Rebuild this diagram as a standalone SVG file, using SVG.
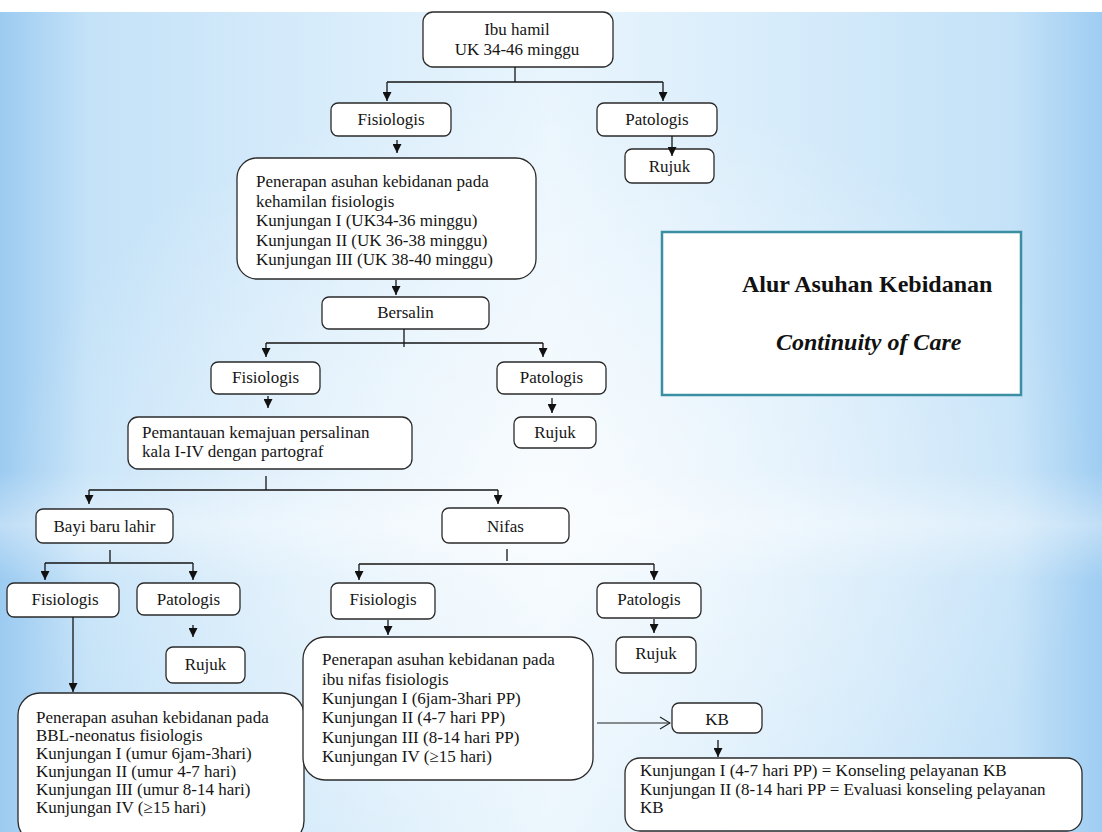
<svg xmlns="http://www.w3.org/2000/svg" width="1102" height="832" viewBox="0 0 1102 832">
<defs>
<linearGradient id="bgH" x1="0" y1="0" x2="1" y2="0">
<stop offset="0" stop-color="#9ccbf1"/>
<stop offset="0.08" stop-color="#c4e2f8"/>
<stop offset="0.5" stop-color="#e9f5fd"/>
<stop offset="0.92" stop-color="#c4e2f8"/>
<stop offset="1" stop-color="#9fcdf2"/>
</linearGradient>
<radialGradient id="glow" cx="0.5" cy="0.6" r="0.5">
<stop offset="0" stop-color="#ffffff" stop-opacity="0.7"/>
<stop offset="1" stop-color="#ffffff" stop-opacity="0"/>
</radialGradient>
<linearGradient id="band" x1="0" y1="0" x2="0" y2="1">
<stop offset="0" stop-color="#ffffff" stop-opacity="0"/>
<stop offset="0.5" stop-color="#ffffff" stop-opacity="0.35"/>
<stop offset="1" stop-color="#ffffff" stop-opacity="0"/>
</linearGradient>
<marker id="ah" markerUnits="userSpaceOnUse" markerWidth="9" markerHeight="9" refX="9" refY="4.5" orient="auto">
<path d="M0,0 L9,4.5 L0,9 z" fill="#111"/>
</marker>
<marker id="ao" markerUnits="userSpaceOnUse" markerWidth="12" markerHeight="14" refX="11" refY="7" orient="auto">
<path d="M1,1 L11,7 L1,13" fill="none" stroke="#222" stroke-width="1.2"/>
</marker>
</defs>
<style>
.box{fill:#ffffff;stroke:#2a2a2a;stroke-width:1.3}
.t{font-family:"Liberation Serif","Times New Roman",serif;font-size:17px;fill:#151515}
.c{text-anchor:middle}
.ln{fill:none;stroke:#151515;stroke-width:1.3}
.ar{fill:none;stroke:#151515;stroke-width:1.3;marker-end:url(#ah)}
.title{font-family:"Liberation Serif","Times New Roman",serif;font-size:24px;font-weight:bold;fill:#111}
</style>
<rect x="0" y="0" width="1102" height="832" fill="url(#bgH)"/>
<rect x="0" y="0" width="1102" height="832" fill="url(#glow)"/>
<rect x="0" y="470" width="1102" height="110" fill="url(#band)"/>
<rect x="0" y="0" width="1102" height="12" fill="#ffffff"/>

<g id="ibu-hamil">
<rect class="box" x="423" y="12" width="190" height="55" rx="10"/>
<text class="t c" x="517" y="35">Ibu hamil</text>
<text class="t c" x="517" y="55">UK 34-46 minggu</text>
</g>
<g id="fisiologis-1">
<rect class="box" x="331" y="103" width="120" height="33" rx="7"/>
<text class="t c" x="391" y="125">Fisiologis</text>
</g>
<g id="patologis-1">
<rect class="box" x="597" y="103" width="120" height="33" rx="7"/>
<text class="t c" x="657" y="125">Patologis</text>
</g>
<g id="rujuk-1">
<rect class="box" x="625" y="149" width="89" height="34" rx="7"/>
<text class="t c" x="669.5" y="172">Rujuk</text>
</g>
<g id="kehamilan">
<rect class="box" x="237" y="158" width="299" height="121" rx="20"/>
<text class="t" x="256" y="187">Penerapan asuhan kebidanan pada</text>
<text class="t" x="256" y="206.5">kehamilan fisiologis</text>
<text class="t" x="256" y="226">Kunjungan I (UK34-36 minggu)</text>
<text class="t" x="256" y="245.5">Kunjungan II (UK 36-38 minggu)</text>
<text class="t" x="256" y="265">Kunjungan III (UK 38-40 minggu)</text>
</g>
<g id="bersalin">
<rect class="box" x="322" y="297" width="167" height="32" rx="7"/>
<text class="t c" x="405.5" y="318">Bersalin</text>
</g>
<g id="fisiologis-2">
<rect class="box" x="211" y="362" width="109" height="32" rx="7"/>
<text class="t c" x="265.5" y="383">Fisiologis</text>
</g>
<g id="patologis-2">
<rect class="box" x="497" y="362" width="109" height="32" rx="7"/>
<text class="t c" x="551.5" y="383">Patologis</text>
</g>
<g id="pemantauan">
<rect class="box" x="128" y="417" width="284" height="52" rx="10"/>
<text class="t" x="142" y="438">Pemantauan kemajuan persalinan</text>
<text class="t" x="142" y="457">kala I-IV dengan partograf</text>
</g>
<g id="rujuk-2">
<rect class="box" x="514" y="417" width="82" height="31" rx="7"/>
<text class="t c" x="555" y="438">Rujuk</text>
</g>
<g id="bayi">
<rect class="box" x="36" y="509" width="137" height="34" rx="7"/>
<text class="t c" x="104.5" y="531.5">Bayi baru lahir</text>
</g>
<g id="nifas">
<rect class="box" x="442" y="508" width="127" height="35" rx="7"/>
<text class="t c" x="505.5" y="531.5">Nifas</text>
</g>
<g id="fisiologis-3">
<rect class="box" x="7" y="583" width="112" height="34" rx="7"/>
<text class="t c" x="65" y="605">Fisiologis</text>
</g>
<g id="patologis-3">
<rect class="box" x="137" y="583" width="103" height="32" rx="7"/>
<text class="t c" x="188.5" y="605">Patologis</text>
</g>
<g id="rujuk-3">
<rect class="box" x="166" y="647" width="79" height="36" rx="7"/>
<text class="t c" x="205.5" y="670">Rujuk</text>
</g>
<g id="bbl">
<rect class="box" x="18" y="693" width="286" height="150" rx="22"/>
<text class="t" x="36" y="723">Penerapan asuhan kebidanan pada</text>
<text class="t" x="36" y="741">BBL-neonatus fisiologis</text>
<text class="t" x="36" y="759">Kunjungan I (umur 6jam-3hari)</text>
<text class="t" x="36" y="777">Kunjungan II (umur 4-7 hari)</text>
<text class="t" x="36" y="795">Kunjungan III (umur 8-14 hari)</text>
<text class="t" x="36" y="813">Kunjungan IV (≥15 hari)</text>
</g>
<g id="fisiologis-4">
<rect class="box" x="331" y="583" width="104" height="36" rx="7"/>
<text class="t c" x="383" y="605">Fisiologis</text>
</g>
<g id="patologis-4">
<rect class="box" x="597" y="583" width="104" height="35" rx="7"/>
<text class="t c" x="649" y="605">Patologis</text>
</g>
<g id="rujuk-4">
<rect class="box" x="616" y="637" width="80" height="36" rx="7"/>
<text class="t c" x="656" y="659">Rujuk</text>
</g>
<g id="nifas-asuhan">
<rect class="box" x="303" y="637" width="290" height="143" rx="22"/>
<text class="t" x="322" y="665">Penerapan asuhan kebidanan pada</text>
<text class="t" x="322" y="685">ibu nifas fisiologis</text>
<text class="t" x="322" y="704">Kunjungan I (6jam-3hari PP)</text>
<text class="t" x="322" y="723">Kunjungan II (4-7 hari PP)</text>
<text class="t" x="322" y="743">Kunjungan III (8-14 hari PP)</text>
<text class="t" x="322" y="762">Kunjungan IV (≥15 hari)</text>
</g>
<g id="kb">
<rect class="box" x="672" y="703" width="90" height="30" rx="7"/>
<text class="t c" x="717" y="725">KB</text>
</g>
<g id="kb-kunjungan">
<rect class="box" x="625" y="758" width="457" height="73" rx="15"/>
<text class="t" x="640" y="776">Kunjungan I (4-7 hari PP) = Konseling pelayanan KB</text>
<text class="t" x="640" y="795">Kunjungan II (8-14 hari PP = Evaluasi konseling pelayanan</text>
<text class="t" x="640" y="813">KB</text>
</g>
<g id="title">
<rect x="662" y="232" width="359" height="163" fill="#ffffff" stroke="#3b8fa3" stroke-width="2.5"/>
<text class="title" x="742" y="292">Alur Asuhan Kebidanan</text>
<text class="title" x="776" y="350" font-style="italic">Continuity of Care</text>
</g>

<g id="connectors">
<line class="ln" x1="515" y1="67" x2="515" y2="82"/>
<line class="ln" x1="387" y1="82" x2="663" y2="82"/>
<line class="ar" x1="387" y1="82" x2="387" y2="101"/>
<line class="ar" x1="663" y1="82" x2="663" y2="101"/>
<line class="ar" x1="397" y1="140" x2="397" y2="153"/>
<line class="ar" x1="672" y1="136" x2="672" y2="156"/>
<line class="ar" x1="396" y1="280" x2="396" y2="295"/>
<line class="ln" x1="404" y1="329" x2="404" y2="347"/>
<line class="ln" x1="266" y1="343" x2="543" y2="343"/>
<line class="ar" x1="266" y1="343" x2="266" y2="357"/>
<line class="ar" x1="543" y1="343" x2="543" y2="357"/>
<line class="ar" x1="268" y1="396" x2="268" y2="408"/>
<line class="ar" x1="552" y1="398" x2="552" y2="413"/>
<line class="ln" x1="266" y1="476" x2="266" y2="490"/>
<line class="ln" x1="89" y1="490" x2="498" y2="490"/>
<line class="ar" x1="89" y1="490" x2="89" y2="504"/>
<line class="ar" x1="498" y1="490" x2="498" y2="504"/>
<line class="ln" x1="110" y1="550" x2="110" y2="562"/>
<line class="ln" x1="45" y1="563" x2="193" y2="563"/>
<line class="ar" x1="45" y1="563" x2="45" y2="580"/>
<line class="ar" x1="193" y1="563" x2="193" y2="580"/>
<line class="ar" x1="73" y1="617" x2="73" y2="692"/>
<line class="ar" x1="193" y1="625" x2="193" y2="637"/>
<line class="ln" x1="507" y1="549" x2="507" y2="561"/>
<line class="ln" x1="359" y1="564" x2="654" y2="564"/>
<line class="ar" x1="359" y1="564" x2="359" y2="580"/>
<line class="ar" x1="654" y1="564" x2="654" y2="580"/>
<line class="ar" x1="388" y1="620" x2="388" y2="635"/>
<line class="ar" x1="654" y1="619" x2="654" y2="633"/>
<line x1="597" y1="723" x2="670" y2="723" stroke="#222" stroke-width="1.2" marker-end="url(#ao)"/>
<line class="ar" x1="718" y1="740" x2="718" y2="757"/>
</g>
</svg>
